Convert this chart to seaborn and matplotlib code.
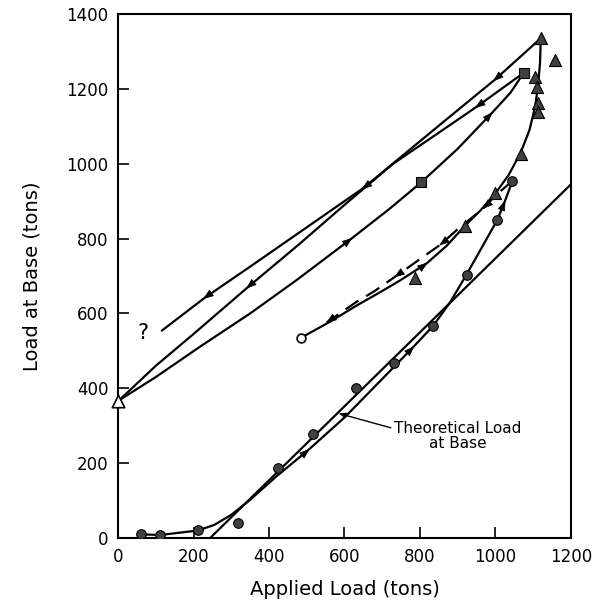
#Carga en la base de un pilote: ciclos de carga y descarga
import numpy as np
import matplotlib
matplotlib.use('Agg')
import matplotlib.pyplot as plt
import seaborn as sns

# curva teorica (recta)
theory_x = [244, 1200]
theory_y = [0, 945]

# primera carga (linea con flechas, pasa por los circulos)
load1_x = [61, 111, 211, 255, 300, 350, 420, 504, 600, 700, 782, 835, 880, 924, 1005, 1025, 1045]
load1_y = [10, 8, 20, 35, 62, 102, 165, 235, 322, 425, 510, 567, 630, 705, 850, 900, 954]
load1_arrows = [7, 10, 15]

circ_x = [61, 111, 211, 317, 425, 517, 630, 732, 835, 924, 1005, 1045]
circ_y = [10, 8, 21, 41, 186, 277, 402, 468, 567, 704, 850, 954]

# descarga discontinua
unload1_x = [1045, 1000, 968, 900, 853, 790, 734, 680, 632, 553]
unload1_y = [954, 915, 881, 825, 783, 738, 698, 660, 631, 576]
unload1_arrows = [2, 4, 6, 9]

# recarga desde el circulo abierto hasta el pico
reload_x = [485, 562, 632, 700, 747, 818, 870, 919, 960, 1000, 1035, 1067, 1090, 1105, 1113, 1118, 1120]
reload_y = [535, 578, 621, 660, 688, 734, 780, 834, 875, 921, 970, 1030, 1090, 1152, 1210, 1270, 1335]
reload_arrows = [5]

tri_x = [1120, 1158, 1106, 1109, 1113, 1113, 1067, 1000, 919, 787]
tri_y = [1335, 1277, 1232, 1204, 1163, 1137, 1025, 921, 834, 694]

# descarga desde el pico (linea exterior)
unload2_x = [1120, 999, 860, 729, 650, 500, 350, 230, 116]
unload2_y = [1335, 1225, 1110, 1001, 935, 830, 725, 642, 554]
unload2_arrows = [1, 4, 7]

# descarga desde el cuadrado hasta el triangulo abierto
unload3_x = [1075, 950, 850, 729, 600, 480, 345, 200, 100, 3]
unload3_y = [1243, 1152, 1083, 1000, 890, 785, 671, 545, 460, 368]
unload3_arrows = [1, 6]

# recarga desde el triangulo abierto hasta el cuadrado
load2_x = [3, 100, 217, 350, 473, 616, 720, 803, 900, 990, 1040, 1075]
load2_y = [368, 430, 511, 600, 689, 798, 880, 950, 1040, 1135, 1190, 1243]
load2_arrows = [5, 9]

sq_x = [1075, 803]
sq_y = [1243, 950]

open_tri = ([0], [365])
open_circ = ([485], [535])

x_ticks = [0, 200, 400, 600, 800, 1000, 1200]
y_ticks = [0, 200, 400, 600, 800, 1000, 1200, 1400]


def curva(ax, xs, ys, arrows, ls='-'):
    sns.lineplot(x=xs, y=ys, sort=False, estimator=None, color='black', lw=1.6,
                 linestyle=ls, ax=ax, zorder=2)
    for i in arrows:
        a = max(i - 1, 0)
        b = min(i + 1, len(xs) - 1)
        dx = xs[b] - xs[a]
        dy = ys[b] - ys[a]
        ax.annotate('', xy=(xs[i] + dx * 0.02, ys[i] + dy * 0.02),
                    xytext=(xs[i] - dx * 0.02, ys[i] - dy * 0.02),
                    arrowprops=dict(arrowstyle='-|>,head_length=0.6,head_width=0.22',
                                    color='black', lw=0.5, shrinkA=0, shrinkB=0,
                                    mutation_scale=11))


def graficar():
    sns.set_style('white')
    plt.rcParams['font.family'] = ['DejaVu Sans']
    plt.rcParams['text.color'] = 'black'
    plt.rcParams['axes.labelcolor'] = 'black'
    plt.rcParams['xtick.color'] = 'black'
    plt.rcParams['ytick.color'] = 'black'
    fig = plt.figure(figsize=(6.03, 6.05), dpi=100)
    ax = fig.add_axes([0.1957, 0.1107, 0.7512, 0.8662])

    curva(ax, theory_x, theory_y, [])
    curva(ax, load1_x, load1_y, load1_arrows)
    curva(ax, unload1_x, unload1_y, unload1_arrows, ls=(0, (7, 4)))
    curva(ax, reload_x, reload_y, reload_arrows)
    curva(ax, unload2_x, unload2_y, unload2_arrows)
    curva(ax, unload3_x, unload3_y, unload3_arrows)
    curva(ax, load2_x, load2_y, load2_arrows)

    gris = '#404040'
    sns.scatterplot(x=circ_x, y=circ_y, marker='o', s=48, color=gris, edgecolor='black',
                    linewidth=0.8, ax=ax, zorder=3)
    sns.scatterplot(x=tri_x, y=tri_y, marker='^', s=75, color=gris, edgecolor='black',
                    linewidth=0.8, ax=ax, zorder=3)
    sns.scatterplot(x=sq_x, y=sq_y, marker='s', s=60, color=gris, edgecolor='black',
                    linewidth=0.8, ax=ax, zorder=3)
    sns.scatterplot(x=open_tri[0], y=open_tri[1], marker='^', s=80, color='white',
                    edgecolor='black', linewidth=1.2, ax=ax, zorder=4, clip_on=False)
    sns.scatterplot(x=open_circ[0], y=open_circ[1], marker='o', s=40, color='white',
                    edgecolor='black', linewidth=1.2, ax=ax, zorder=4)

    ax.text(66, 548, '?', fontsize=15, ha='center', va='center')
    ax.annotate('Theoretical Load\nat Base', xy=(584, 333), xytext=(900, 272),
                fontsize=11, ha='center', va='center', linespacing=1.0,
                arrowprops=dict(arrowstyle='-|>,head_length=0.4,head_width=0.15',
                                color='black', lw=1.0, shrinkA=40, shrinkB=0,
                                mutation_scale=10, relpos=(0, 0.75)))

    ax.set_xlim(0, 1200)
    ax.set_ylim(0, 1400)
    ax.set_xticks(x_ticks)
    ax.set_yticks(y_ticks)
    ax.tick_params(direction='in', length=8, width=1.2, labelsize=12, pad=7,
                   bottom=True, left=True, top=False, right=False)
    for s in ax.spines.values():
        s.set_visible(True)
        s.set_linewidth(1.5)
        s.set_color('black')
    ax.set_xlabel('Applied Load (tons)', fontsize=14, labelpad=10)
    ax.set_ylabel('Load at Base (tons)', fontsize=14, labelpad=18)

    fig.savefig('out.png', dpi=100)


if __name__ == "__main__":
    graficar()
